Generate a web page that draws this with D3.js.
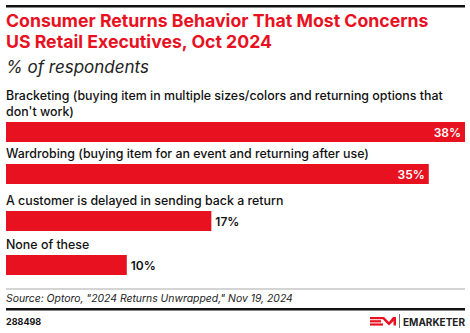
<!DOCTYPE html>
<html><head><meta charset="utf-8">
<script src="https://cdn.jsdelivr.net/npm/d3@7"></script>
<style>body{margin:0;background:#fff}svg{display:block}text{font-family:Inter,"Noto Sans",sans-serif}</style>
</head><body><svg id="c" width="470" height="333"></svg>
<script>
const titleLines = ["Consumer Returns Behavior That Most Concerns", "US Retail Executives, Oct 2024"];
const subtitle = "% of respondents";
const categories = [
  ["Bracketing (buying item in multiple sizes/colors and returning options that", "don't work)"],
  ["Wardrobing (buying item for an event and returning after use)"],
  ["A customer is delayed in sending back a return"],
  ["None of these"]
];
const values = [38, 35, 17, 10];
const source = "Source: Optoro, \"2024 Returns Unwrapped,\" Nov 19, 2024";
const chartId = "288498";

const red = "#e8111f";
const svg = d3.select("#c");
svg.append("rect").attr("x",6).attr("y",5).attr("width",459).attr("height",2.5).attr("fill","#111");
svg.append("text").attr("x",6).attr("y",27).attr("fill",red).attr("font-size",17.7).attr("font-weight",700)
  .selectAll("tspan").data(titleLines).join("tspan").attr("x",6).attr("dy",(d,i)=>i?21:0).text(d=>d);
svg.append("text").attr("x",6).attr("y",73).attr("font-size",17).attr("font-style","italic").attr("fill","#222").text(subtitle);

const x = d3.scaleLinear().domain([0, 38]).range([6, 465]);
const barTops = [122, 164, 211, 255];
const barH = 20;
const g = svg.append("g");
categories.forEach((lines, i) => {
  const t = g.append("text").attr("font-size",12.4).attr("font-weight",500).attr("fill","#111");
  lines.forEach((l, j) => t.append("tspan").attr("x",6).attr("y", barTops[i] - 6 - (lines.length-1-j)*16).text(l));
  g.append("rect").attr("x", x(0)).attr("y", barTops[i]).attr("width", x(values[i]) - x(0)).attr("height", barH).attr("fill", red);
  const inside = values[i] > 25;
  g.append("text").attr("x", inside ? x(values[i]) - 4 : x(values[i]) + 4).attr("y", barTops[i] + 14.5)
    .attr("text-anchor", inside ? "end" : "start").attr("font-size",12).attr("font-weight",600)
    .attr("fill", inside ? "#fff" : "#111").text(values[i] + "%");
});

svg.append("rect").attr("x",6).attr("y",288.5).attr("width",459).attr("height",1).attr("fill","#aaa");
svg.append("text").attr("x",6).attr("y",302).attr("font-size",10.4).attr("font-style","italic").attr("fill","#222").text(source);
svg.append("rect").attr("x",6).attr("y",308).attr("width",459).attr("height",2.5).attr("fill","#111");
svg.append("text").attr("x",6).attr("y",325).attr("font-size",9).attr("font-weight",700).attr("fill","#111").text(chartId);

// logo
const lg = svg.append("g").attr("fill", red);
lg.append("rect").attr("x",370).attr("y",317).attr("width",13).attr("height",2.2);
lg.append("rect").attr("x",370).attr("y",320.2).attr("width",11).attr("height",2.2);
lg.append("rect").attr("x",370).attr("y",323.4).attr("width",13).attr("height",2.2);
lg.append("path").attr("d","M381 317 L384 317 L389 322 L393 317 L396 317 L396 325.6 L393.5 325.6 L393.5 321 L389 325.6 L384 320.6 Z");
svg.append("rect").attr("x",399).attr("y",314).attr("width",0.8).attr("height",14).attr("fill","#555");
svg.append("text").attr("x",403).attr("y",325.5).attr("font-size",10.5).attr("font-weight",700).attr("fill","#222")
  .attr("textLength",62).attr("lengthAdjust","spacingAndGlyphs").text("EMARKETER");
</script></body></html>
